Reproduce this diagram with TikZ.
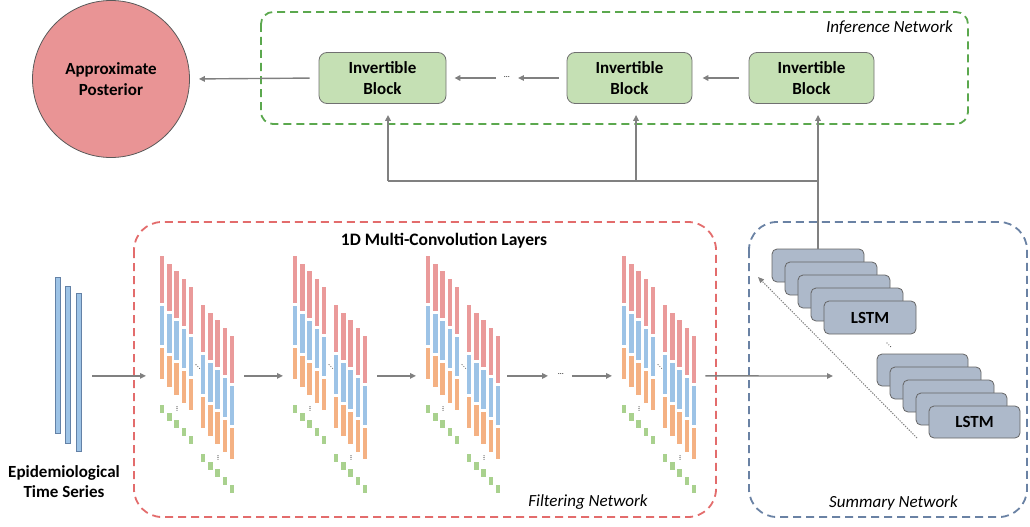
\documentclass[tikz,border=0pt]{standalone}
\usepackage{fontspec}
\setmainfont{Carlito}
\usetikzlibrary{arrows.meta}
\definecolor{cgray}{HTML}{808080}
\definecolor{cbord}{HTML}{707070}
\definecolor{cgreenbox}{HTML}{C5E0B4}
\definecolor{clstm}{HTML}{ADB9CA}
\definecolor{cpost}{HTML}{E99495}
\definecolor{cred}{HTML}{EA9A9A}
\definecolor{cblue}{HTML}{9DC3E6}
\definecolor{corange}{HTML}{F4B183}
\definecolor{cgreen}{HTML}{A9D18E}
\definecolor{cinbord}{HTML}{6381A6}
\definecolor{fgreen}{HTML}{5BA84E}
\definecolor{fred}{HTML}{E36C6C}
\definecolor{fblue}{HTML}{6A82A4}
\newcommand\fbig{\bfseries\fontsize{17}{20.5}\selectfont}
\newcommand\fital{\itshape\fontsize{17}{20}\selectfont}
\newcommand\tinydots[3]{% x y direction (0 vertical, 1 diagonal)
  \fill[black!70] (#1,#2) circle (0.55);
  \fill[black!70] ({#1+1.8*#3},{#2+1.8}) circle (0.55);
  \fill[black!70] ({#1+3.6*#3},{#2+3.6}) circle (0.55);}
\newcommand\convgroup[3]{%
  \node[inner sep=0, minimum width=74pt, minimum height=240pt, anchor=north west] (#1) at (#2,#3) {};
  \foreach \s in {0,1}{
    \foreach \i in {0,...,4}{
      \fill[cred]    ({#2+41*\s+7.2*\i},{#3+49*\s+7.8*\i}) rectangle ++(4.3,47);
      \fill[cblue]   ({#2+41*\s+7.2*\i},{#3+49*\s+7.8*\i+50}) rectangle ++(4.3,39);
      \fill[corange] ({#2+41*\s+7.2*\i},{#3+49*\s+7.8*\i+92}) rectangle ++(4.3,31.5);
      \fill[cgreen]  ({#2+41*\s+7.2*\i},{#3+49*\s+7.8*\i+149}) rectangle ++(4.3,8);
    }
  }
  \tinydots{#2+36}{#3+109}{1}
  \tinydots{#2+17}{#3+151}{0}
  \tinydots{#2+58}{#3+200}{0}
}
\begin{document}
\begin{tikzpicture}[x=1pt,y=-1pt,
  conn/.style={draw=cgray, line width=1.4pt},
  arr/.style={conn, -{Triangle[length=6pt,width=5.5pt]}},
  blk/.style={draw=cbord, fill=cgreenbox, rounded corners=8pt, line width=0.8pt,
    minimum height=51pt, align=center, inner sep=0, font=\fbig},
  lstm/.style={draw=black!60, fill=clstm, rounded corners=5pt, line width=0.8pt,
    minimum width=92pt, minimum height=33pt, inner sep=0, font=\fbig},
  inbar/.style={draw=cinbord, fill=cblue, line width=0.7pt, inner sep=0},
  frame/.style={line width=1.8pt, dash pattern=on 8pt off 5pt},
  lbl/.style={inner sep=0, align=center}]
\useasboundingbox (0,0) rectangle (1030,527);

% frames
\draw[frame, draw=fgreen, rounded corners=12pt] (261,12) rectangle (968,124);
\draw[frame, draw=fred, rounded corners=28pt] (134,222) rectangle (716,517);
\draw[frame, draw=fblue, rounded corners=28pt] (749,222) rectangle (1027,517);

% frame labels
\node[lbl, font=\fital, anchor=base east] (tinf) at (953,33) {Inference Network};
\node[lbl, font=\bfseries\fontsize{17.5}{20}\selectfont, anchor=base] (tconv) at (444,245) {1D Multi-Convolution Layers};
\node[lbl, font=\fital, anchor=base] (tfilt) at (588,506.5) {Filtering Network};
\node[lbl, font=\fital, anchor=base] (tsum) at (893.5,507) {Summary Network};

% posterior
\node[circle, draw=black!65, fill=cpost, line width=0.8pt, minimum size=157pt, inner sep=0,
  align=center, font=\fbig] (post) at (111,79) {Approximate\\Posterior};

% invertible blocks
\node[blk, minimum width=127pt] (b1) at (382.5,78) {Invertible\\Block};
\node[blk, minimum width=125pt] (b2) at (629.5,78) {Invertible\\Block};
\node[blk, minimum width=125pt] (b3) at (811.5,78) {Invertible\\Block};
\node[inner sep=0, font=\fontsize{8}{8}\selectfont] (dts) at (507,77.5) {\ldots};

\draw[arr, shorten <=10pt, shorten >=10pt] (b3.west) -- (b2.east);
\draw[arr, shorten <=8pt, shorten >=8pt] (b2.west) -- (dts.east |- b2.west);
\draw[arr, shorten <=8pt, shorten >=8pt] (dts.west |- b1.east) -- (b1.east);
\draw[arr, shorten <=9pt, shorten >=9pt] (b1.west) -- (post.east);

% LSTM stacks
\foreach \k in {0,...,4}{
  \node[lstm] (la\k) at ({818+13*\k},{265.5+13*\k}) {\ifnum\k=4 LSTM\fi};
}
\foreach \k in {0,...,4}{
  \node[lstm, minimum width=91pt, minimum height=32pt] (lb\k) at ({922.5+13*\k},{370+13*\k}) {\ifnum\k=4 LSTM\fi};
}
\tinydots{887}{343}{1}

% branch to inference network
\coordinate (j3) at (818,181);
\coordinate (j2) at (636,181);
\coordinate (j1) at (388,181);
\draw[conn] (la0.north) -- (j3) -- (j1);
\draw[arr, shorten >=11pt] (j1) -- (j1 |- b1.south);
\draw[arr, shorten >=11pt] (j2) -- (j2 |- b2.south);
\draw[arr, shorten >=11pt] (j3) -- (j3 |- b3.south);

% dotted arrow in summary network
\coordinate (da) at (917,438);
\coordinate (db) at (758,277);
\draw[draw=cgray, line width=1pt, dash pattern=on 1.3pt off 1.3pt,
  -{Triangle[length=6pt,width=5pt]}] (da) -- (db);

% input series
\node[inbar, minimum width=5pt, minimum height=156pt] (t1) at (57.5,355) {};
\node[inbar, minimum width=4.5pt, minimum height=157pt] (t2) at (68,364.5) {};
\node[inbar, minimum width=5pt, minimum height=158pt] (t3) at (78.5,372) {};
\node[lbl, font=\fbig, anchor=north] (tin) at (64,465) {Epidemiological\\Time Series};

% conv groups
\convgroup{g1}{160}{255.7}
\convgroup{g2}{293}{255.7}
\convgroup{g3}{426}{255.7}
\convgroup{g4}{622}{255.7}
\node[inner sep=0, font=\fontsize{8}{8}\selectfont] (cdots) at (561,374.5) {\ldots};
\coordinate (sumin) at (833,376);

\draw[arr, shorten <=11pt, shorten >=14pt] (t3.east |- g1.west) -- (g1.west);
\draw[arr, shorten <=10pt, shorten >=10pt] (g1.east) -- (g2.west);
\draw[arr, shorten <=10pt, shorten >=10pt] (g2.east) -- (g3.west);
\draw[arr, shorten <=7pt, shorten >=10pt] (g3.east) -- (cdots.west |- g3.east);
\draw[arr, shorten <=8pt, shorten >=10pt] (cdots.east |- g4.west) -- (g4.west);
\draw[arr, shorten <=9pt] (g4.east) -- (sumin);
\end{tikzpicture}
\end{document}
